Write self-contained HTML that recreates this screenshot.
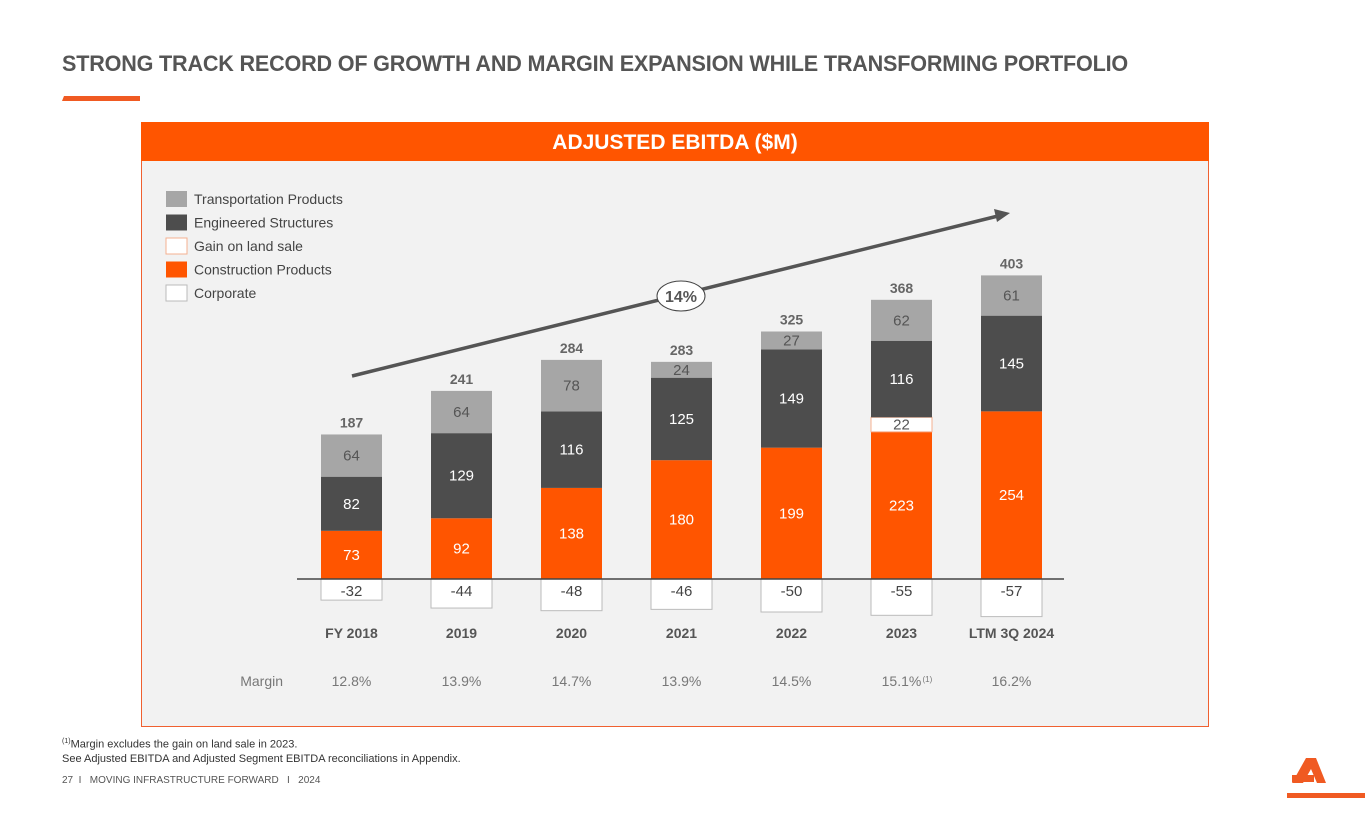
<!DOCTYPE html>
<html><head><meta charset="utf-8"><style>
body{margin:0;width:1365px;height:829px;background:#fff;font-family:"Liberation Sans",sans-serif;position:relative;overflow:hidden}
.t{position:absolute;white-space:nowrap}
</style></head><body>
<div class="t" style="left:62px;top:51px;font-size:22.5px;font-weight:bold;color:#555;letter-spacing:-0.2px;transform:scaleX(0.96);transform-origin:0 0">STRONG TRACK RECORD OF GROWTH AND MARGIN EXPANSION WHILE TRANSFORMING PORTFOLIO</div>
<svg style="position:absolute;left:0;top:0" width="200" height="110"><polygon points="64,96 140,96 140,101 62,101" fill="#f05a22"/></svg>
<div style="position:absolute;left:141px;top:122px;width:1066px;height:603px;border:1px solid #f06030;background:#f2f2f2"></div>
<div class="t" style="left:141px;top:122px;width:1068px;height:39px;background:#ff5500;color:#fff;font-weight:bold;font-size:21px;text-align:center;line-height:41px">ADJUSTED EBITDA ($M)</div>
<svg id="chart" style="position:absolute;left:0;top:0" width="1365" height="829" font-family="Liberation Sans, sans-serif"></svg>
<div class="t" style="left:62px;top:738px;font-size:11px;color:#333"><sup style="font-size:7px">(1)</sup>Margin excludes the gain on land sale in 2023.</div>
<div class="t" style="left:62px;top:753px;font-size:11px;color:#333">See Adjusted EBITDA and Adjusted Segment EBITDA reconciliations in Appendix.</div>
<div class="t" style="left:62px;top:775px;font-size:10px;color:#555">27 &nbsp;I &nbsp; MOVING INFRASTRUCTURE FORWARD &nbsp; I &nbsp; 2024</div>
<svg style="position:absolute;left:1280px;top:755px" width="85" height="45"><polygon points="12,28 26,3 36,3 46,28 37,28 31,14 23,28" fill="#f05a22"/><rect x="12" y="20" width="22" height="7" fill="#f05a22"/><rect x="7" y="38" width="78" height="5" fill="#f05a22"/></svg>
<script>
const categories=["FY 2018","2019","2020","2021","2022","2023","LTM 3Q 2024"];
const construction=[73,92,138,180,199,223,254];
const landSale=[0,0,0,0,0,22,0];
const engineered=[82,129,116,125,149,116,145];
const transportation=[64,64,78,24,27,62,61];
const corporate=[-32,-44,-48,-46,-50,-55,-57];
const totals=[187,241,284,283,325,368,403];
const margins=["12.8%","13.9%","14.7%","13.9%","14.5%","15.1%","16.2%"];
const NS="http://www.w3.org/2000/svg";
const svg=document.getElementById('chart');
const base=579, k=0.66, x0=321, pitch=110, bw=61;
const xs=i=>x0+i*pitch, ys=v=>base-v*k;
function el(tag,attrs,text){const e=document.createElementNS(NS,tag);for(const a in attrs)e.setAttribute(a,attrs[a]);if(text!==undefined)e.textContent=text;svg.appendChild(e);return e;}
const leg=[["Transportation Products","#a6a6a6","none"],["Engineered Structures","#4d4d4d","none"],["Gain on land sale","#fff","#f4b090"],["Construction Products","#ff5500","none"],["Corporate","#fff","#bbb"]];
leg.forEach((l,i)=>{
 const r=el('rect',{x:166,y:191+i*23.5,width:21,height:16,fill:l[1],stroke:l[2]});
 
 
 const t=el('text',{x:194,y:204+i*23.5,'font-size':14,fill:'#444'},l[0]);
 
 
});
categories.forEach((c,i)=>{
 const x=xs(i), cx=x+bw/2;
 const segs=[[construction[i],'#ff5500','#fff','none'],[landSale[i],'#fff','#555','#f4b090'],[engineered[i],'#4d4d4d','#fff','none'],[transportation[i],'#a6a6a6','#555','none']];
 let acc=0;
 segs.forEach(s=>{
  if(!s[0])return;
  const r=el('rect',{x:x,y:ys(acc+s[0]),width:bw,height:s[0]*k,fill:s[1],stroke:s[3]});
  
  
  el('text',{x:cx,y:ys(acc+s[0]/2)+5,'font-size':15,fill:s[2],'text-anchor':'middle'},s[0]);
  acc+=s[0];
 });
 const tt=el('text',{x:cx,y:ys(acc)-7,'font-size':14,'font-weight':'bold',fill:'#666','text-anchor':'middle'},totals[i]);
 
 
 const cr=el('rect',{x:x,y:base,width:bw,height:-corporate[i]*k,fill:'#fff',stroke:'#bbb'});
 
 
 el('text',{x:cx,y:base+17,'font-size':15,fill:'#444','text-anchor':'middle'},corporate[i]);
 const cl=el('text',{x:cx,y:638,'font-size':14,'font-weight':'bold',fill:'#555','text-anchor':'middle'},c);
 
 
 const m=el('text',{x:cx,y:686,'font-size':14,fill:'#777','text-anchor':'middle'},margins[i]);
 
 
 if(i===5){el('text',{x:cx+21,y:682,'font-size':8,fill:'#777'},'(1)');}
});
el('text',{x:283,y:686,'font-size':14,fill:'#777','text-anchor':'end'},'Margin');
el('line',{x1:297,y1:base,x2:1064,y2:base,stroke:'#444','stroke-width':1.5});
const tl=el('line',{x1:352,y1:376,x2:998,y2:216,stroke:'#555','stroke-width':3.5});


el('polygon',{points:'1010,213 994,209 997,222',fill:'#555'});
const ell=el('ellipse',{cx:681,cy:296,rx:24,ry:15,fill:'#fff',stroke:'#444','stroke-width':1});


el('text',{x:681,y:302,'font-size':16,'font-weight':'bold',fill:'#555','text-anchor':'middle'},'14%');
</script>
</body></html>
